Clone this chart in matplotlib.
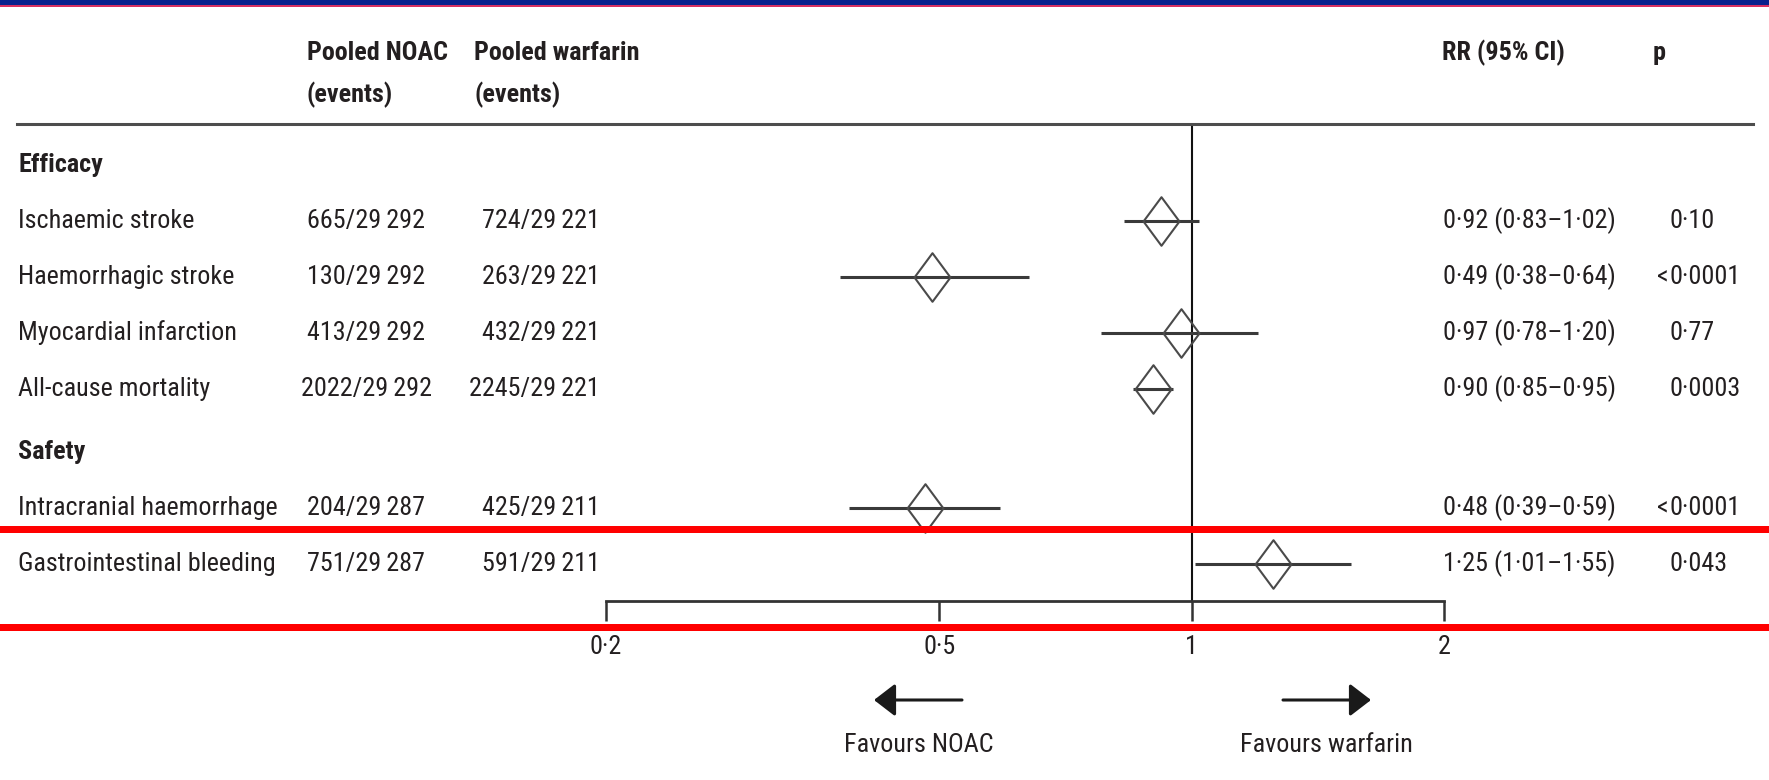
import matplotlib

matplotlib.use("Agg")

import matplotlib.pyplot as plt
from matplotlib import font_manager
from matplotlib.font_manager import FontProperties
from matplotlib.lines import Line2D
from matplotlib.patches import FancyArrowPatch, Rectangle
from matplotlib.path import Path
from matplotlib.textpath import TextPath
from matplotlib.transforms import blended_transform_factory

# Pooled NOAC vs warfarin outcomes
sections = ["Efficacy", "Safety"]
outcomes = [
    "Ischaemic stroke",
    "Haemorrhagic stroke",
    "Myocardial infarction",
    "All-cause mortality",
    "Intracranial haemorrhage",
    "Gastrointestinal bleeding",
]
outcome_section = [0, 0, 0, 0, 1, 1]
noac_events = [665, 130, 413, 2022, 204, 751]
noac_total = [29292, 29292, 29292, 29292, 29287, 29287]
warfarin_events = [724, 263, 432, 2245, 425, 591]
warfarin_total = [29221, 29221, 29221, 29221, 29211, 29211]
rr = [0.92, 0.49, 0.97, 0.90, 0.48, 1.25]
ci_low = [0.83, 0.38, 0.78, 0.85, 0.39, 1.01]
ci_high = [1.02, 0.64, 1.20, 0.95, 0.59, 1.55]
p_values = ["0·10", "<0·0001", "0·77", "0·0003", "<0·0001", "0·043"]
x_ticks = [0.2, 0.5, 1, 2]

W, H = 1769, 780
TEXT = "#231f20"


def pick_family():
    """Prefer a narrow sans if one is installed."""
    names = {f.name for f in font_manager.fontManager.ttflist}
    for name in ["Liberation Sans Narrow", "Roboto Condensed", "DejaVu Sans Condensed"]:
        if name in names:
            return name
    return "Liberation Sans"


def fit_size(text, target_px, family):
    """Font size (pt) at which text is target_px wide at 100 dpi."""
    w10 = TextPath((0, 0), text, size=10, prop=FontProperties(family=family)).get_extents().width
    return 10 * target_px * 0.72 / w10


def fx(px):
    return px / W


def fy(py):
    return 1 - py / H


def dot(v, fmt="{:.2f}"):
    """Lancet style decimal point."""
    return fmt.format(v).replace(".", "·")


def count(n):
    """Thin space as thousands separator for 5+ digit numbers."""
    s = str(n)
    if n >= 10000:
        s = s[:-3] + "\u2009" + s[-3:]
    return s


def main():
    family = [pick_family(), "DejaVu Sans"]
    fs = min(fit_size("Intracranial haemorrhage", 256, family[0]), 20)

    fig = plt.figure(figsize=(W / 100, H / 100), dpi=100)

    # journal banner at the top
    fig.add_artist(Rectangle((0, fy(5)), 1, 5 / H, transform=fig.transFigure,
                             color="#08208c", lw=0))
    fig.add_artist(Rectangle((0, fy(7)), 1, 2 / H, transform=fig.transFigure,
                             color="#d63060", lw=0))

    # row positions: section header then its outcomes, small gap between sections
    gap = 0.125
    rows = {}
    header_rows = []
    pos = 0.0
    for s, name in enumerate(sections):
        if s > 0:
            pos += gap
        header_rows.append(pos)
        pos += 1
        for i, sec in enumerate(outcome_section):
            if sec == s:
                rows[i] = pos
                pos += 1
    row_y = [rows[i] for i in range(len(outcomes))]

    row_px = 56.0
    top_px, bottom_px, first_px = 124, 601, 165
    ax = fig.add_axes([fx(606), fy(bottom_px), fx(1444 - 606), (bottom_px - top_px) / H])
    ax.set_xscale("log")
    ax.set_xlim(x_ticks[0], x_ticks[-1])
    ax.set_ylim((bottom_px - first_px) / row_px, (top_px - first_px) / row_px)
    ax.minorticks_off()
    ax.set_xticks(x_ticks)
    ax.set_xticklabels([dot(t, "{:g}") for t in x_ticks], family=family, fontsize=fs, color=TEXT)
    ax.set_yticks([])
    for side in ["top", "left", "right"]:
        ax.spines[side].set_visible(False)
    ax.spines["bottom"].set_linewidth(2.0)
    ax.spines["bottom"].set_color("#333333")
    ax.tick_params(axis="x", direction="out", length=14.5, width=1.8, color="#333333", pad=10)
    ax.patch.set_alpha(0)

    # line of no effect
    ax.axvline(1, color="#111111", lw=1.5, zorder=2)

    # confidence intervals and point estimates
    diamond = Path([(0, 1), (0.74, 0), (0, -1), (-0.74, 0), (0, 1)],
                   [Path.MOVETO, Path.LINETO, Path.LINETO, Path.LINETO, Path.CLOSEPOLY])
    ax.hlines(row_y, ci_low, ci_high, color="#3a3a3a", lw=2.2, zorder=3, clip_on=False)
    ax.plot(rr, row_y, ls="none", marker=diamond, markersize=35, mfc="none",
            mec="#4a4a4a", mew=1.5, zorder=4, clip_on=False)

    # table text
    tr = blended_transform_factory(fig.transFigure, ax.transData)
    cell = dict(transform=tr, family=family, fontsize=fs, color=TEXT, va="center")
    for s, name in enumerate(sections):
        ax.text(fx(18), header_rows[s], name, weight="bold", ha="left", **cell)
    for i, label in enumerate(outcomes):
        y = row_y[i]
        ax.text(fx(18), y, label, ha="left", **cell)
        ax.text(fx(366), y, f"{noac_events[i]}/{count(noac_total[i])}", ha="center", **cell)
        ax.text(fx(600), y, f"{warfarin_events[i]}/{count(warfarin_total[i])}", ha="right", **cell)
        ax.text(fx(1443), y, f"{dot(rr[i])} ({dot(ci_low[i])}–{dot(ci_high[i])})",
                ha="left", **cell)
        p = p_values[i]
        if p.startswith("<"):
            ax.text(fx(1669), y, "<", ha="right", **cell)
            p = p[1:]
        ax.text(fx(1669), y, p, ha="left", **cell)

    # column headers and rule
    head = dict(family=family, fontsize=fs, weight="bold", color=TEXT, va="center", ha="left")
    fig.text(fx(307), fy(53), "Pooled NOAC", **head)
    fig.text(fx(307), fy(95), "(events)", **head)
    fig.text(fx(474), fy(53), "Pooled warfarin", **head)
    fig.text(fx(474), fy(95), "(events)", **head)
    fig.text(fx(1442), fy(53), "RR (95% CI)", **head)
    fig.text(fx(1653), fy(53), "p", **head)
    fig.add_artist(Line2D([fx(17), fx(1753)], [fy(124), fy(124)], transform=fig.transFigure,
                          color="#4d4d4d", lw=2.2))

    # direction arrows
    for tail, tip in [(962, 874), (1283, 1371)]:
        fig.add_artist(FancyArrowPatch(
            (fx(tail), fy(700)), (fx(tip), fy(700)), transform=fig.transFigure,
            arrowstyle="-|>,head_length=0.65,head_width=0.5", mutation_scale=20,
            color="#1a1a1a", lw=2.2, shrinkA=0, shrinkB=0))
    fig.text(fx(919), fy(745), "Favours NOAC", family=family, fontsize=fs, color=TEXT,
             ha="center", va="center")
    fig.text(fx(1326), fy(745), "Favours warfarin", family=family, fontsize=fs, color=TEXT,
             ha="center", va="center")

    # red highlight bars around the gastrointestinal bleeding row
    for py in [529, 627]:
        fig.add_artist(Rectangle((0, fy(py + 3.5)), 1, 7 / H, transform=fig.transFigure,
                                 color="#ff0000", lw=0, zorder=10))

    fig.savefig("out.png", dpi=100, facecolor="white")


if __name__ == "__main__":
    main()
